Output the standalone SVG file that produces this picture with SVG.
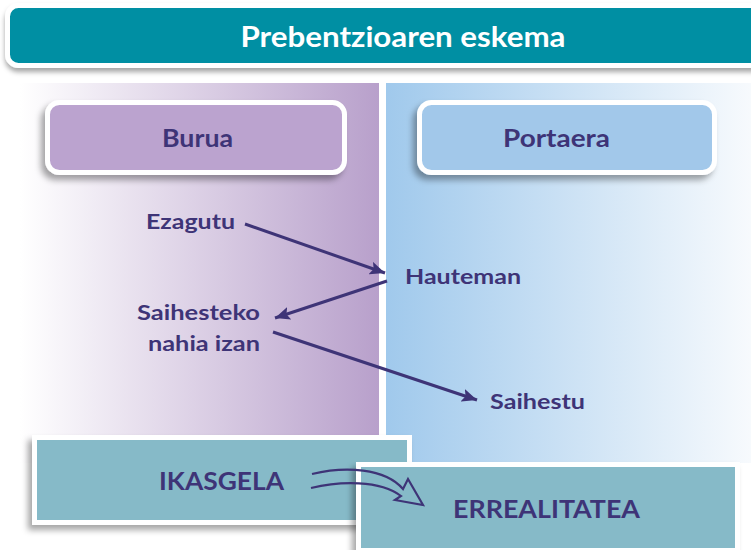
<svg xmlns="http://www.w3.org/2000/svg" width="751" height="550" viewBox="0 0 751 550">
<defs>
<linearGradient id="gLeft" x1="20" y1="0" x2="379" y2="0" gradientUnits="userSpaceOnUse">
<stop offset="0" stop-color="#ffffff"/>
<stop offset="1" stop-color="#b8a0cb"/>
</linearGradient>
<linearGradient id="gRight" x1="386" y1="0" x2="751" y2="0" gradientUnits="userSpaceOnUse">
<stop offset="0" stop-color="#a0c9ec"/>
<stop offset="1" stop-color="#f7fafd"/>
</linearGradient>
<filter id="sh" x="-10%" y="-20%" width="120%" height="150%">
<feDropShadow dx="-4" dy="5" stdDeviation="3" flood-color="#000" flood-opacity="0.35"/>
</filter>
<filter id="shT" x="-5%" y="-20%" width="110%" height="160%">
<feDropShadow dx="0" dy="4" stdDeviation="2.5" flood-color="#000" flood-opacity="0.35"/>
</filter>
<marker id="ah" markerUnits="userSpaceOnUse" markerWidth="16" markerHeight="14" refX="15" refY="6.5" orient="auto">
<path d="M0,0 L15,6.5 L0,13 L3,6.5 z" fill="#3e3477"/>
</marker>
<style>
.lbl{font-family:Lato,"Liberation Sans",sans-serif;font-weight:700;fill:#3e3477}
.hdr{font-family:Lato,"Liberation Sans",sans-serif;font-weight:700;fill:#3e3477;font-size:25px}
.big{font-family:Lato,"Liberation Sans",sans-serif;font-weight:700;fill:#3e3477;font-size:25px}
.conn{stroke:#3e3477;stroke-width:3;fill:none}
.bx{stroke:#ffffff;stroke-width:5}
</style>
</defs>
<rect width="751" height="550" fill="#ffffff"/>
<!-- panels -->
<rect x="20" y="83" width="359" height="380" fill="url(#gLeft)"/>
<rect x="386" y="83" width="365" height="380" fill="url(#gRight)"/>

<g id="title">
<rect x="7.5" y="5.5" width="760" height="60" rx="11" fill="#058fa3" stroke="#ffffff" stroke-width="5" filter="url(#shT)"/>
<text x="403" y="46.5" text-anchor="middle" font-family="Lato,'Liberation Sans',sans-serif" font-weight="700" font-size="29" fill="#ffffff" textLength="325" lengthAdjust="spacingAndGlyphs">Prebentzioaren eskema</text>
</g>

<g id="burua">
<rect x="47.5" y="102.5" width="297" height="70" rx="12" fill="#bba3cf" class="bx" filter="url(#sh)"/>
<text x="197.5" y="147" text-anchor="middle" class="hdr" textLength="71" lengthAdjust="spacingAndGlyphs">Burua</text>
</g>

<g id="portaera">
<rect x="419.5" y="102.5" width="295" height="70" rx="12" fill="#a2c8ea" class="bx" filter="url(#sh)"/>
<text x="556.5" y="147" text-anchor="middle" class="hdr" textLength="107" lengthAdjust="spacingAndGlyphs">Portaera</text>
</g>

<g id="ezagutu">
<text x="146" y="229" class="lbl" font-size="21" textLength="89" lengthAdjust="spacingAndGlyphs">Ezagutu</text>
</g>
<g id="hauteman">
<text x="405" y="284" class="lbl" font-size="21" textLength="116" lengthAdjust="spacingAndGlyphs">Hauteman</text>
</g>
<g id="saihesteko">
<text x="260" y="320" text-anchor="end" class="lbl" font-size="21" textLength="123" lengthAdjust="spacingAndGlyphs">Saihesteko</text>
<text x="260" y="351" text-anchor="end" class="lbl" font-size="21" textLength="112" lengthAdjust="spacingAndGlyphs">nahia izan</text>
</g>
<g id="saihestu">
<text x="490" y="409" class="lbl" font-size="21" textLength="95" lengthAdjust="spacingAndGlyphs">Saihestu</text>
</g>

<g id="connectors">
<line x1="245" y1="224" x2="385" y2="273" class="conn" marker-end="url(#ah)"/>
<line x1="387" y1="281" x2="275" y2="318" class="conn" marker-end="url(#ah)"/>
<line x1="273" y1="332" x2="477" y2="400" class="conn" marker-end="url(#ah)"/>
</g>

<g id="ikasgela">
<rect x="34.5" y="437.5" width="375" height="85" fill="#86bac8" class="bx" filter="url(#sh)"/>
<text x="221.5" y="490" text-anchor="middle" class="big" textLength="125" lengthAdjust="spacingAndGlyphs">IKASGELA</text>
</g>

<g id="errealitatea">
<rect x="358.5" y="464.5" width="379" height="86" fill="#86bac8" class="bx" filter="url(#sh)"/>
<text x="546.5" y="518" text-anchor="middle" class="big" textLength="187" lengthAdjust="spacingAndGlyphs">ERREALITATEA</text>
</g>

<g id="connectors-bottom">
<path d="M312,474 C345,466 385,468 403,489 L408,479 L423,505 L395,500 L401,496 C380,480 340,481 311,488" fill="none" stroke="#3e3477" stroke-width="2.2" stroke-linejoin="miter"/>
</g>
</svg>
